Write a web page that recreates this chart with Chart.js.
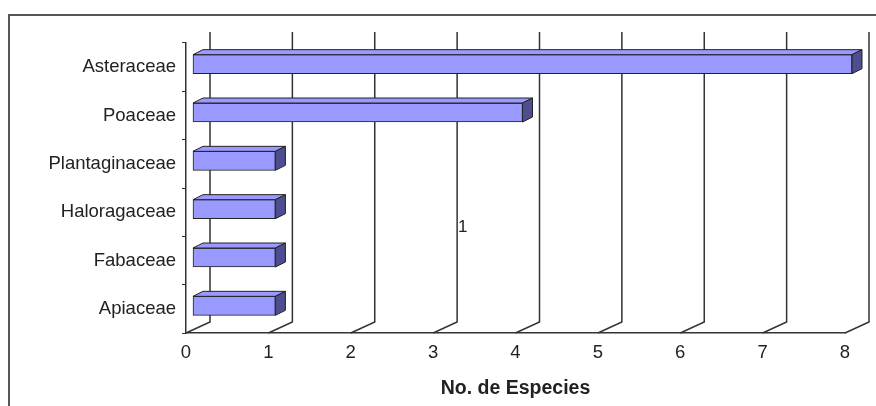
<!DOCTYPE html>
<html>
<head>
<meta charset="utf-8">
<script src="https://cdn.jsdelivr.net/npm/chart.js@4.4.1/dist/chart.umd.min.js"></script>
<style>
  body { margin: 0; background: #fff; }
  #wrap { width: 876px; height: 406px; position: relative; }
</style>
</head>
<body>
<div id="wrap"><canvas id="chart"></canvas></div>
<script>
// Data
const categories = ['Asteraceae', 'Poaceae', 'Plantaginaceae', 'Haloragaceae', 'Fabaceae', 'Apiaceae'];
const speciesCounts = [8, 4, 1, 1, 1, 1];
const xMin = 0;
const xMax = 8;
const axisTitle = 'No. de Especies';
const strayLabel = '1';

const FONT = '"Liberation Sans", Arial, sans-serif';
const INK = '#222';
const LINE = '#333';

// fake 3D offsets
const wallDx = 24, wallDy = -11;
const barDx = 7, barDy = -3;
const depthDx = 10, depthDy = -5;

const threeD = {
    id: 'threeD',
    beforeDatasetsDraw(chart) {
        const { ctx, chartArea, scales: { x } } = chart;
        ctx.save();
        ctx.strokeStyle = LINE;
        ctx.lineWidth = 1.5;
        // back wall gridlines with floor slants
        for (let v = xMin; v <= xMax; v++) {
            const px = x.getPixelForValue(v);
            ctx.beginPath();
            ctx.moveTo(px, chartArea.bottom);
            ctx.lineTo(px + wallDx, chartArea.bottom + wallDy);
            ctx.lineTo(px + wallDx, chartArea.top + wallDy);
            ctx.stroke();
        }
        ctx.restore();
        // shift the bar fronts into the middle of the depth
        ctx.save();
        ctx.translate(barDx, barDy);
    },
    afterDatasetsDraw(chart) {
        const { ctx } = chart;
        ctx.restore();
        const meta = chart.getDatasetMeta(0);
        ctx.save();
        ctx.strokeStyle = INK;
        ctx.lineWidth = 1;
        meta.data.forEach(bar => {
            const left = bar.base + barDx;
            const right = bar.x + barDx;
            const top = bar.y - bar.height / 2 + barDy;
            const bottom = bar.y + bar.height / 2 + barDy;
            // top face
            ctx.fillStyle = '#9999ff';
            ctx.beginPath();
            ctx.moveTo(left, top);
            ctx.lineTo(left + depthDx, top + depthDy);
            ctx.lineTo(right + depthDx, top + depthDy);
            ctx.lineTo(right, top);
            ctx.closePath();
            ctx.fill();
            ctx.stroke();
            // side face
            ctx.fillStyle = '#4d4d8f';
            ctx.beginPath();
            ctx.moveTo(right, top);
            ctx.lineTo(right + depthDx, top + depthDy);
            ctx.lineTo(right + depthDx, bottom + depthDy);
            ctx.lineTo(right, bottom);
            ctx.closePath();
            ctx.fill();
            ctx.stroke();
        });
        ctx.restore();
    },
    afterDraw(chart) {
        const { ctx } = chart;
        ctx.save();
        // stray data label from the original
        ctx.fillStyle = INK;
        ctx.font = '17px ' + FONT;
        ctx.textBaseline = 'middle';
        ctx.fillText(strayLabel, 458, 227);
        // outer frame
        ctx.strokeStyle = '#555';
        ctx.lineWidth = 2;
        ctx.strokeRect(9, 15, 900, 500);
        ctx.restore();
    }
};

new Chart(document.getElementById('chart').getContext('2d'), {
    type: 'bar',
    data: {
        labels: categories,
        datasets: [{
            data: speciesCounts,
            backgroundColor: '#9999ff',
            borderColor: INK,
            borderWidth: 1,
            borderSkipped: false,
            barThickness: 19,
            clip: false
        }]
    },
    options: {
        indexAxis: 'y',
        responsive: true,
        maintainAspectRatio: false,
        animation: false,
        layout: { padding: { top: 43, right: 31, left: 0, bottom: 0 } },
        plugins: {
            legend: { display: false },
            tooltip: { enabled: false }
        },
        scales: {
            x: {
                min: xMin,
                max: xMax,
                ticks: { stepSize: 1, color: INK, padding: 9, font: { family: FONT, size: 18.5 } },
                grid: { display: false, drawTicks: false },
                border: { display: true, color: LINE, width: 1.5 },
                title: {
                    display: true,
                    text: axisTitle,
                    color: INK,
                    font: { family: FONT, size: 19.5, weight: 'bold' },
                    padding: { top: 0, bottom: 6 }
                },
                afterFit: s => { s.height = 73; }
            },
            y: {
                ticks: { color: INK, padding: 6, font: { family: FONT, size: 18.5 } },
                grid: { display: true, drawOnChartArea: false, drawTicks: true, tickLength: 4, color: LINE, offset: true },
                border: { display: true, color: LINE, width: 1.5 },
                afterFit: s => { s.width = 186; }
            }
        }
    },
    plugins: [threeD]
});
</script>
</body>
</html>
